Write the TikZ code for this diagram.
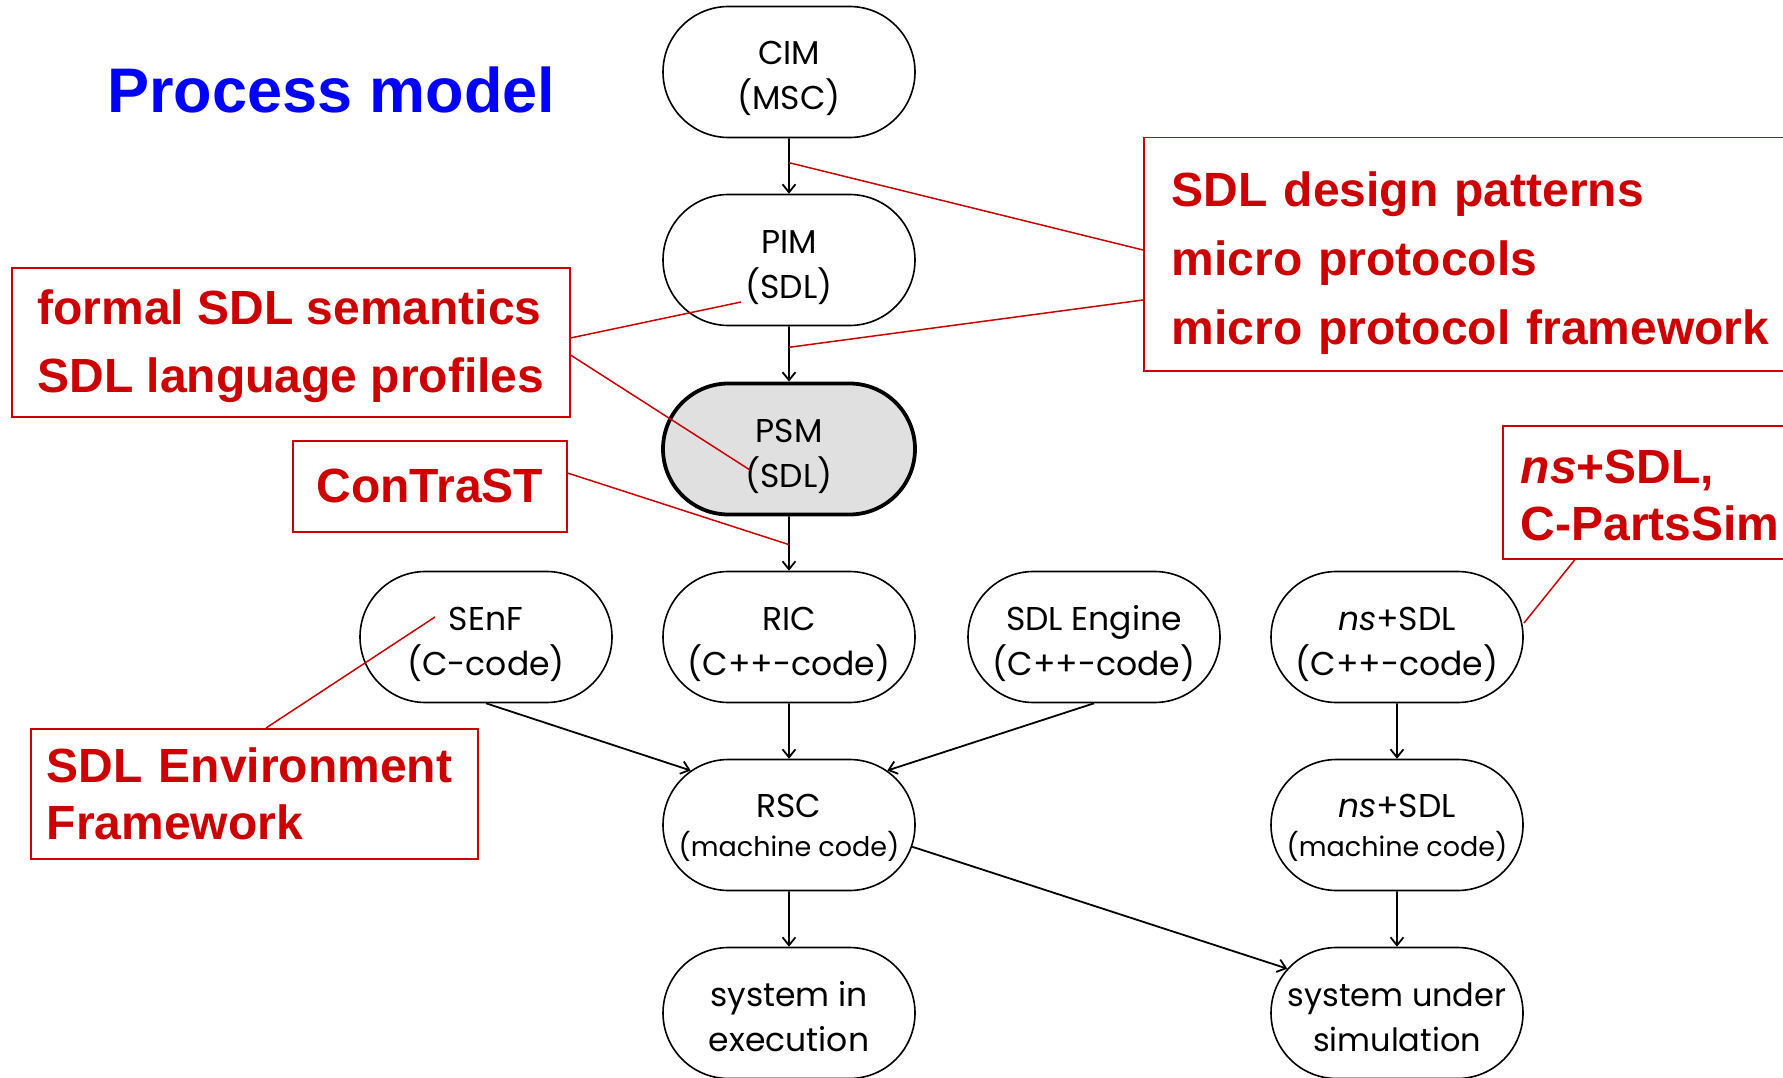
\documentclass[tikz,border=0pt]{standalone}
\usepackage{fontspec}
\setmainfont{Poppins}
\newfontfamily\nodefont{Poppins}
\newfontfamily\arialfont{Liberation Sans}
\usetikzlibrary{shapes.misc,arrows.meta,calc}
\definecolor{sdlred}{RGB}{204,0,0}
\definecolor{titleblue}{RGB}{0,0,255}
\definecolor{psmgray}{RGB}{224,224,224}
\tikzset{
  proc/.style={shape=rounded rectangle, draw=black, line width=1.6pt, fill=white,
    minimum width=252pt, minimum height=131pt, inner sep=0pt, align=center,
    text height=84pt, text depth=8pt,
    font=\nodefont\fontsize{33}{45}\selectfont},
  flow/.style={line width=1.8pt, -{Straight Barb[length=8pt,width=13pt]}},
  callout/.style={draw=sdlred, line width=1.5pt},
  redbox/.style={draw=sdlred, line width=1.5pt, text=sdlred, align=left, anchor=north west,
    font=\arialfont\bfseries\fontsize{48}{68}\selectfont},
}
\newcommand{\mcode}{{\fontsize{27}{30}\selectfont(machine code)}}
\begin{document}
\begin{tikzpicture}[x=1pt,y=-1pt]
\useasboundingbox (0,0) rectangle (1783,1078);
\clip (0,0) rectangle (1783,1078);

% title
\node[anchor=base west, inner sep=0pt, text=titleblue,
      font=\arialfont\bfseries\fontsize{63}{70}\selectfont] (title) at (107,113) {Process model};

% process nodes
\node[proc] (cim) at (789,72) {CIM\\(MSC)};
\node[proc] (pim) at (789,260) {PIM\\(SDL)};
\node[proc, fill=psmgray, line width=3.8pt] (psm) at (789,449) {PSM\\(SDL)};
\node[proc] (senf) at (486,637) {SEnF\\(C-code)};
\node[proc] (ric) at (789,637) {RIC\\(C++-code)};
\node[proc] (eng) at (1094,637) {SDL Engine\\(C++-code)};
\node[proc] (nscpp) at (1397,637) {\textit{ns}+SDL\\(C++-code)};
\node[proc, text height=71pt] (rsc) at (789,825) {RSC\\[-6pt]\mcode};
\node[proc, text height=71pt] (nsmc) at (1397,825) {\textit{ns}+SDL\\[-6pt]\mcode};
\node[proc] (exec) at (789,1013) {system in\\execution};
\node[proc, font=\nodefont\fontsize{32}{45}\selectfont] (sim) at (1397,1013)
  {\makebox[150pt]{system under}\\\makebox[150pt]{simulation}};

% flow arrows
\draw[flow] (cim) -- (pim);
\draw[flow] (pim) -- (psm);
\draw[flow] (psm) -- (ric);
\draw[flow] (ric) -- (rsc);
\draw[flow] (rsc) -- (exec);
\draw[flow] (nscpp) -- (nsmc);
\draw[flow] (nsmc) -- (sim);
\draw[flow] (senf.south) -- (rsc.151);
\draw[flow] (eng.south) -- (rsc.29);
\draw[flow] (rsc.-10) -- (sim.158);

% red boxes
\node[redbox, inner xsep=0pt, minimum width=558pt, minimum height=149pt, text height=110pt] (box1) at (11,267)
  {formal SDL semantics\\SDL language profiles};
\node[redbox, align=center, inner sep=0pt, minimum width=274pt, minimum height=91pt] (contrast) at (292,440)
  {ConTraST};
\node[redbox, inner xsep=28pt, text width=660pt, minimum height=233pt, text height=53pt,
      font=\arialfont\bfseries\fontsize{48}{69}\selectfont] (box3) at (1143,137)
  {SDL design patterns\\micro protocols\\micro protocol framework};
\node[redbox, inner xsep=18pt, text width=300pt, minimum height=133pt, text height=40pt,
      font=\arialfont\bfseries\fontsize{48}{57}\selectfont] (box4) at (1502,425)
  {\textit{ns}+SDL,\\C-PartsSim};
\node[redbox, inner xsep=16pt, text width=415pt, minimum height=130pt,
      font=\arialfont\bfseries\fontsize{48}{57}\selectfont] (box5) at (30,728)
  {SDL Environment\\Framework};

% callout lines
\coordinate (c1) at ($(cim.south)!0.44!(pim.north)$);
\coordinate (c2) at ($(pim.south)!0.38!(psm.north)$);
\coordinate (c3) at ($(psm.south)!0.52!(ric.north)$);
\draw[callout] (c1) -- (box3.west |- 0,250);
\draw[callout] (c2) -- (box3.west |- 0,300);
\draw[callout] ($(pim.center)+(-48,42)$) -- (box1.east |- 0,338);
\draw[callout] (box1.east |- 0,355) -- ($(psm.center)+(-39,21)$);
\draw[callout] (contrast.east |- 0,473) -- (c3);
\draw[callout] ($(senf.center)+(-51,-20)$) -- (box5.north -| 266,0);
\draw[callout] ($(nscpp.center)+(127,-14)$) -- (box4.south -| 1575,0);
\end{tikzpicture}
\end{document}
